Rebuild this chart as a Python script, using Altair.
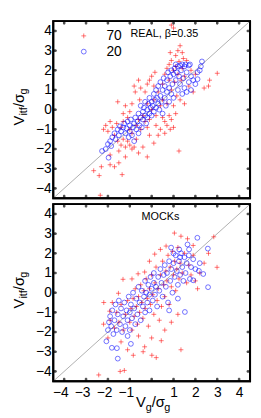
import altair as alt
import pandas as pd

# ---------------- data ----------------
SERIES = ["70", "20"]
COLORS = ["#ff0000", "#0000ff"]
TICKS = [-4, -3, -2, -1, 0, 1, 2, 3, 4]
DOMAIN = [-4.5, 4.5]
DIAG = [-4.5, 4.5]

REAL_70 = [
    (0.9, 4.3), (1.0, 4.15), (1.3, 3.25), (1.2, 3.0), (1.4, 2.9), (0.85, 2.9), (1.1, 2.75), (1.45, 2.6),
    (3.0, 1.85), (2.65, 1.5), (2.6, 1.2), (2.4, 1.1), (1.25, -2.1), (-2.35, -4.35), (-2.65, -3.1),
    (-2.4, -3.35), (-2.3, -2.9), (-1.9, -2.8), (-1.7, -2.9), (-1.35, -3.3), (-1.5, -2.7), (-1.2, -2.4),
    (-1.9, -2.3),
    (-1.55, 0.4), (-1.3, -0.2), (-1.2, 0.2), (-0.8, 1.2), (-0.75, 0.9), (-0.6, 1.5), (-0.5, 1.1),
    (-0.55, 0.5), (-0.3, 0.9), (-0.2, 1.3), (-0.1, 1.5), (0.0, 1.7), (0.1, 1.2), (0.15, 1.9), (-0.9, 0.3),
    (-1.0, -0.1),
    (-2.2, -1.0), (-2.1, -0.8), (-2.0, -1.1), (-1.9, -0.6), (-1.8, -0.9), (-1.7, -1.3), (-1.6, -0.7),
    (-1.55, -1.6), (-1.4, -1.8), (-1.3, -1.5), (-1.2, -1.9), (-1.1, -1.6), (-1.0, -1.8), (-0.9, -2.0),
    (-0.8, -1.9), (-0.7, -1.5),
    (-1.4, -0.9), (-1.3, -0.6), (-1.1, -0.4), (-1.0, -1.0), (-0.9, -1.2), (-0.7, -0.8), (-0.6, -0.5),
    (-0.5, -1.0), (-0.4, -0.3), (-0.3, -0.6), (-0.2, 0.3), (-0.1, -0.5), (0.0, 0.0), (0.1, 0.5),
    (0.2, -0.3), (0.3, 0.9), (0.4, 0.2), (0.5, 1.3), (0.5, 0.5), (0.6, 1.8), (0.6, -0.6), (0.7, 2.1),
    (0.7, 0.3), (0.8, 2.3), (0.8, 1.5), (0.9, 1.0), (0.9, 2.5), (1.0, 2.0), (1.0, 0.2), (1.05, 1.4),
    (1.1, 2.2), (1.15, 0.7), (1.2, 1.8), (1.25, 2.45), (1.3, 0.5), (1.35, 1.5), (1.4, 2.1), (1.5, 0.3),
    (1.5, 1.7), (1.6, 2.5), (1.7, 1.2), (1.8, 2.0), (1.9, 0.9), (2.0, 1.8),
    (0.2, -0.8), (0.4, -1.0), (0.5, -0.4), (0.6, -1.2), (0.7, -0.8), (0.8, -0.3), (0.85, -1.0),
    (0.9, -0.5), (1.0, -0.9), (1.1, -0.2), (0.3, -1.3), (-0.2, -0.9), (-0.1, -1.3),
    (-0.6, -2.2), (-0.4, -1.9), (-0.2, -2.4), (0.1, -1.7), (-1.5, -2.1),
]

REAL_20 = [
    (-2.27, -2.1), (-2.1, -2.0), (-1.97, -2.44), (-2.0, -1.75), (-1.9, -1.6), (-1.85, -1.85), (-1.8, -1.4),
    (-1.7, -1.2), (-1.65, -1.5), (-1.55, -1.0), (-1.5, -1.3), (-1.45, -0.85), (-1.4, -1.1), (-1.3, -0.9),
    (-1.25, -0.7), (-1.2, -1.2), (-1.15, -0.95), (-1.1, -0.6), (-1.05, -1.4), (-1.0, -0.8), (-1.0, -1.1),
    (-0.95, -0.5), (-0.9, -1.3), (-0.85, -0.9), (-0.8, -0.7), (-0.8, -1.6), (-0.75, -0.4), (-0.7, -1.0),
    (-0.65, -0.6), (-0.6, -0.2), (-0.6, -1.2), (-0.55, -0.8), (-0.5, -0.4), (-0.5, 0.2), (-0.45, -0.9),
    (-0.4, -0.1), (-0.4, -0.5), (-0.35, 0.1), (-0.3, -0.3), (-0.3, 0.4), (-0.25, -0.7), (-0.2, 0.0),
    (-0.2, -0.4), (-0.15, 0.3), (-0.1, -0.2), (-0.1, 0.6), (-0.05, 0.1), (0.0, -0.3), (0.0, 0.4),
    (0.05, 0.2), (0.1, 0.8), (0.1, -0.1), (0.15, 0.5), (0.2, 0.1), (0.2, 1.0), (0.25, 0.6), (0.3, 0.3),
    (0.3, 1.2), (0.35, 0.0), (0.4, 0.7), (0.4, 1.4), (0.45, 0.4), (0.5, 1.0), (0.5, -0.2), (0.55, 1.6),
    (0.6, 0.6), (0.6, 1.2), (0.65, 0.2), (0.7, 1.5), (0.7, 0.9), (0.75, 1.9), (0.8, 1.1), (0.8, 0.4),
    (0.85, 1.7), (0.9, 2.0), (0.9, 0.8), (0.95, 1.3), (1.0, 1.8), (1.0, 0.6),
    (1.05, 2.1), (1.1, 1.5), (1.1, 2.3), (1.15, 1.9), (1.2, 1.0), (1.2, 2.2), (1.25, 1.7), (1.3, 2.25),
    (1.3, 1.3), (1.35, 2.0), (1.4, 2.3), (1.4, 0.8), (1.45, 1.6), (1.5, 2.2), (1.5, 1.1), (1.55, 2.3),
    (1.6, 1.9), (1.6, 0.9), (1.7, 2.25), (1.7, 1.4), (1.8, 1.7), (1.8, 1.0), (1.9, 1.5), (2.0, 1.3),
    (2.1, 1.55), (2.1, 1.9), (2.2, 2.0), (2.3, 2.45), (2.25, 2.2), (1.75, 2.3),
]

MOCK_70 = [
    (-2.42, -4.18), (-1.44, -4.0), (-1.25, -3.95), (-0.84, -3.18), (-0.39, -3.0), (-0.32, -2.75),
    (0.01, -3.18), (0.21, -3.3), (1.34, -2.9), (0.44, -2.44), (2.99, 1.29), (1.04, 3.03), (2.84, 2.84),
    (-2.19, -0.5), (-1.92, -0.94), (-1.52, -0.03), (-1.31, 0.68), (-0.62, 0.96), (-0.32, 1.05),
    (0.14, 1.96), (0.66, 2.37), (1.34, 2.87), (1.64, 2.74), (-2.2, -1.6), (-2.0, -2.3), (-1.4, -2.5),
    (-1.1, -2.9), (-0.6, -2.2), (0.0, -2.3), (0.6, -1.9), (0.9, -1.5), (1.2, -1.1), (2.1, 0.2),
    (2.4, 1.5), (2.6, 2.0), (1.9, 2.4), (0.4, 2.2), (-0.1, 1.6), (-0.9, 0.7),
    (-1.9, -1.4), (-1.8, -0.5), (-1.7, -1.8), (-1.6, -1.0), (-1.5, -1.5), (-1.4, -0.6), (-1.3, -1.9),
    (-1.2, -1.1), (-1.1, -0.4), (-1.0, -1.5), (-0.95, -0.8), (-0.9, -1.9), (-0.85, -0.3), (-0.8, -1.2),
    (-0.75, 0.2), (-0.7, -0.7), (-0.65, -1.6), (-0.6, -0.2), (-0.55, -1.0), (-0.5, 0.4), (-0.45, -0.5),
    (-0.4, -1.3), (-0.35, 0.1), (-0.3, -0.8), (-0.25, 0.7), (-0.2, -0.3), (-0.15, -1.7), (-0.1, 0.2),
    (-0.05, -0.6), (0.0, 0.9), (0.05, -0.1), (0.1, -1.1), (0.15, 0.5), (0.2, 1.3), (0.25, -0.4),
    (0.3, 0.2), (0.35, -1.4), (0.4, 0.9), (0.45, -0.7), (0.5, 1.6), (0.55, 0.4), (0.6, -0.2), (0.65, 1.1),
    (0.7, 0.6), (0.75, 1.9), (0.8, -0.6), (0.85, 1.3), (0.9, 0.3), (0.95, 2.1), (1.0, 0.9), (1.05, 1.6),
    (1.1, 0.1), (1.15, 1.2), (1.2, 2.3), (1.25, 0.7), (1.3, 1.5), (1.4, 1.0), (1.5, 2.0), (1.6, 0.5),
    (1.7, 1.4), (1.8, 0.9), (1.9, 1.9), (2.0, 0.6), (2.2, 1.0),
]

MOCK_20 = [
    (2.09, 2.79), (2.57, 2.24), (2.58, 0.28), (1.9, 0.63), (2.16, 1.11), (2.36, 0.95), (1.52, -0.98),
    (-2.07, -2.47), (-1.82, -2.8), (-1.59, -2.82), (-1.55, -3.35), (-0.95, -2.6), (-1.1, -2.2),
    (0.89, 2.29), (1.26, 2.2), (1.64, 2.45), (1.71, 2.2), (1.0, 2.0), (1.3, 1.8),
    (-2.0, -1.9), (-1.95, -1.5), (-1.9, -1.2), (-1.85, -1.7), (-1.8, -0.9), (-1.75, -2.1), (-1.7, -1.4),
    (-1.65, -0.6), (-1.6, -1.9), (-1.55, -1.1), (-1.5, -0.4), (-1.45, -1.6), (-1.4, -0.8), (-1.35, -2.0),
    (-1.3, -1.2), (-1.25, -0.5), (-1.2, -1.7), (-1.15, -0.9), (-1.1, -1.4), (-1.05, -0.2), (-1.0, -1.0),
    (-1.0, -1.9),
    (-0.95, -0.6), (-0.9, -1.3), (-0.85, 0.0), (-0.8, -0.8), (-0.75, -1.6), (-0.7, -0.3), (-0.65, -1.1),
    (-0.6, 0.3), (-0.55, -0.5), (-0.5, -1.4), (-0.45, 0.1), (-0.4, -0.7), (-0.35, -0.2), (-0.3, 0.6),
    (-0.3, -1.0), (-0.25, 0.0), (-0.2, -0.5), (-0.15, 0.4), (-0.1, -0.1), (-0.1, -0.9), (-0.05, 0.8),
    (0.0, 0.2), (0.05, -0.4), (0.1, 0.5), (0.1, 1.0), (0.15, -0.1), (0.2, 0.3), (0.25, -0.7), (0.3, 0.8),
    (0.35, 0.1), (0.4, 1.2), (0.45, 0.5), (0.5, -0.2),
    (0.55, 0.9), (0.6, 1.4), (0.65, 0.3), (0.7, 1.0), (0.75, -0.5), (0.8, 1.6), (0.85, 0.6), (0.9, 1.2),
    (0.95, 0.0), (1.0, 1.5), (1.05, 0.8), (1.1, 1.9), (1.15, 1.1), (1.2, 0.4), (1.25, 1.6), (1.3, 0.9),
    (1.35, 2.0), (1.4, 1.3), (1.45, 0.6), (1.5, 1.8), (1.55, 1.0), (1.6, 1.5), (1.7, 1.9), (1.75, 0.7),
    (1.8, 1.3), (1.9, 1.7), (2.0, 1.2), (2.2, 1.5), (1.2, -0.3), (0.8, -0.9),
]

# ---------------- styling ----------------
FONT = "Liberation Sans"
PLUS = "M-1,0L1,0M0,-1L0,1"
W, H = 200, 180

xs = alt.Scale(domain=DOMAIN, nice=False, zero=False)
ys = alt.Scale(domain=DOMAIN, nice=False, zero=False)

y_axis = alt.Axis(values=TICKS, ticks=False, domain=False, grid=False, labelFont=FONT,
                  labelFontSize=14, labelColor="#000000", labelPadding=2, labelFlush=False,
                  labelOverlap=False, title=None)
x_axis_bottom = alt.Axis(values=TICKS, ticks=False, domain=False, grid=False, labelFont=FONT,
                         labelFontSize=14, labelColor="#000000", labelPadding=5, labelFlush=False,
                         labelOverlap=False, title=None,
                         labelExpr="datum.value == 0 ? '' : datum.label",
                         labelOffset={"condition": {"test": "datum.value < 0", "value": -4}, "value": 0})


def points_df(s70, s20):
    rows = [{"x": a, "y": b, "g": "70"} for a, b in s70]
    rows += [{"x": a, "y": b, "g": "20"} for a, b in s20]
    return pd.DataFrame(rows)


one = pd.DataFrame({"t": [0]})
diag_df = pd.DataFrame({"x": DIAG, "y": DIAG})
xt_df = pd.DataFrame({"x": TICKS * 2, "y": [DOMAIN[0]] * 9 + [DOMAIN[1]] * 9})
yt_df = pd.DataFrame({"y": TICKS * 2, "x": [DOMAIN[0]] * 9 + [DOMAIN[1]] * 9})
box_df = pd.DataFrame({"x": [DOMAIN[0]], "x2": [DOMAIN[1]], "y": [DOMAIN[0]], "y2": [DOMAIN[1]]})


def txt(text, x, y, size, angle=0, align="left", baseline="alphabetic"):
    kw = dict(text=text, fontSize=size, font=FONT, color="#000000", align=align, baseline=baseline)
    if angle:
        kw["angle"] = angle
    return alt.Chart(one).mark_text(**kw).encode(x=alt.value(x), y=alt.value(y))


def panel(s70, s20, label, label_x, bottom):
    X = alt.X("x:Q", scale=xs, axis=x_axis_bottom if bottom else None)
    Y = alt.Y("y:Q", scale=ys, axis=y_axis)
    if bottom:
        leg = None
    else:
        leg = alt.Legend(orient="none", legendX=24, legendY=8, title=None, labelFont=FONT,
                         labelFontSize=14, labelColor="#000000", symbolSize=24, symbolStrokeWidth=0.6,
                         labelOffset=16, rowPadding=2, padding=0)
    diag = alt.Chart(diag_df).mark_line(color="#8c8c8c", strokeWidth=0.7).encode(x=X, y=Y)
    pts = alt.Chart(points_df(s70, s20)).mark_point(filled=False, strokeWidth=0.6, size=24, opacity=0.9).encode(
        x=X, y=Y,
        color=alt.Color("g:N", scale=alt.Scale(domain=SERIES, range=COLORS), legend=leg),
        shape=alt.Shape("g:N", scale=alt.Scale(domain=SERIES, range=[PLUS, "circle"]), legend=leg),
    )
    xt = alt.Chart(xt_df).mark_tick(stroke="#000000", fill="#000000", thickness=1.5, size=6,
                                    orient="vertical", clip=True).encode(x=X, y=Y)
    yt = alt.Chart(yt_df).mark_tick(stroke="#000000", fill="#000000", thickness=1.5, size=6,
                                    orient="horizontal", clip=True).encode(x=X, y=Y)
    box = alt.Chart(box_df).mark_rect(fillOpacity=0, stroke="#000000", strokeWidth=2, strokeOpacity=1).encode(
        x=X, x2="x2:Q", y=Y, y2="y2:Q")
    layers = [diag, pts, xt, yt, box,
              txt(label, label_x, 16, 11, align="center"),
              # y-axis title  V_itf / sigma_g (rotated)
              txt("V", -30, 106, 15, angle=270),
              txt("itf", -27, 96, 11, angle=270),
              txt("/σ", -30, 87.4, 15, angle=270),
              txt("g", -27, 74.7, 11, angle=270)]
    if bottom:
        layers += [txt("V", 84, 206, 15),
                   txt("g", 94, 210, 11),
                   txt("/σ", 100.1, 206, 15),
                   txt("g", 112.8, 210, 11)]
    return alt.layer(*layers).properties(width=W, height=H)


top = panel(REAL_70, REAL_20, "REAL, β=0.35", 113, False)
bot = panel(MOCK_70, MOCK_20, "MOCKs", 109, True)

chart = alt.vconcat(top, bot, spacing=0).resolve_scale(
    color="independent", shape="independent"
).properties(
    padding={"left": 3, "top": 7, "right": 0, "bottom": 0}
).configure_view(stroke="#000000", strokeWidth=2)

chart.save("out.html", embed_options={"renderer": "svg", "actions": False})
